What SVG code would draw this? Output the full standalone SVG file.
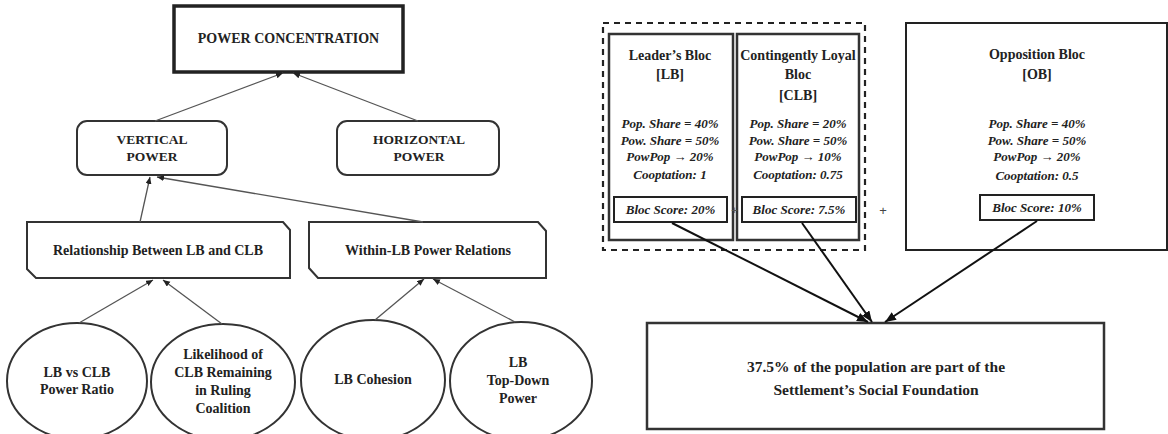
<svg xmlns="http://www.w3.org/2000/svg" width="1168" height="434" viewBox="0 0 1168 434">
<style>
.bt{font-family:"Liberation Serif",serif;font-weight:bold;fill:#222;text-anchor:middle}
.t14{font-size:14px}
.t13{font-size:13.5px}
.rt{font-size:14px}
.it{font-family:"Liberation Serif",serif;font-style:italic;font-weight:bold;font-size:13px;fill:#222;text-anchor:middle}
.node{fill:#fff;stroke:#333;stroke-width:2}
.thin{fill:none;stroke:#555;stroke-width:1.3}
.thick{fill:none;stroke:#111;stroke-width:2}
</style>
<defs>
<marker id="ah" markerUnits="userSpaceOnUse" markerWidth="8" markerHeight="8" refX="7" refY="3" orient="auto"><path d="M0,0 L7,3 L0,6 Z" fill="#222"/></marker>
<marker id="ahb" markerUnits="userSpaceOnUse" markerWidth="12" markerHeight="10" refX="11" refY="4.5" orient="auto"><path d="M0,0 L11,4.5 L0,9 Z" fill="#111"/></marker>
</defs>
<rect width="1168" height="434" fill="#fff"/>

<g id="power-concentration">
<rect x="174" y="6" width="229" height="66" fill="#fff" stroke="#222" stroke-width="3.5"/>
<text class="bt t14" x="288.5" y="43">POWER CONCENTRATION</text>
</g>
<g id="vertical-power">
<rect class="node" x="77" y="121" width="150" height="54" rx="10"/>
<text class="bt t13" x="152" y="144">VERTICAL</text>
<text class="bt t13" x="152" y="161">POWER</text>
</g>
<g id="horizontal-power">
<rect class="node" x="337" y="121" width="162" height="54" rx="10"/>
<text class="bt t13" x="419" y="144">HORIZONTAL</text>
<text class="bt t13" x="419" y="161">POWER</text>
</g>
<g id="relationship">
<path class="node" d="M27,222 H283 L290,230 V278 H36 L27,269 Z"/>
<text class="bt t14" x="158" y="255">Relationship Between LB and CLB</text>
</g>
<g id="within-lb">
<path class="node" d="M309,222 H538 L546,231 V278 H318 L309,268 Z"/>
<text class="bt t14" x="428" y="255">Within-LB Power Relations</text>
</g>
<g id="lb-vs-clb">
<ellipse class="node" cx="77" cy="381" rx="70" ry="58" stroke="#222"/>
<text class="bt t14" x="77" y="377">LB vs CLB</text>
<text class="bt t14" x="77" y="394">Power Ratio</text>
</g>
<g id="likelihood">
<ellipse class="node" cx="223" cy="382" rx="72" ry="58" stroke="#222"/>
<text class="bt t14" x="223" y="359">Likelihood of</text>
<text class="bt t14" x="223" y="377">CLB Remaining</text>
<text class="bt t14" x="223" y="395">in Ruling</text>
<text class="bt t14" x="223" y="413">Coalition</text>
</g>
<g id="lb-cohesion">
<ellipse class="node" cx="373" cy="380" rx="72" ry="60" stroke="#222"/>
<text class="bt t14" x="373" y="384">LB Cohesion</text>
</g>
<g id="lb-top-down">
<ellipse class="node" cx="521" cy="381" rx="71" ry="59" stroke="#222"/>
<text class="bt t14" x="518" y="367">LB</text>
<text class="bt t14" x="518" y="385">Top-Down</text>
<text class="bt t14" x="518" y="403">Power</text>
</g>

<g id="coalition-group">
<rect x="603" y="23" width="262" height="227" fill="none" stroke="#222" stroke-width="2.2" stroke-dasharray="6 5"/>
</g>
<g id="leaders-bloc">
<rect x="609" y="34" width="124" height="206" fill="#fff" stroke="#333" stroke-width="2.5"/>
<text class="bt rt" x="670" y="60">Leader’s Bloc</text>
<text class="bt rt" x="670" y="79">[LB]</text>
<text class="it" x="670" y="128">Pop. Share = 40%</text>
<text class="it" x="670" y="145">Pow. Share = 50%</text>
<text class="it" x="670" y="161">PowPop → 20%</text>
<text class="it" x="670" y="179">Cooptation: 1</text>
<rect x="614" y="197" width="113" height="25" fill="#fff" stroke="#222" stroke-width="2"/>
<text class="it" x="670.5" y="214">Bloc Score: 20%</text>
</g>
<g id="contingently-loyal-bloc">
<rect x="737" y="34" width="122" height="206" fill="#fff" stroke="#333" stroke-width="2.5"/>
<text class="bt rt" x="798" y="60">Contingently Loyal</text>
<text class="bt rt" x="798" y="79">Bloc</text>
<text class="bt rt" x="798" y="100">[CLB]</text>
<text class="it" x="798" y="128">Pop. Share = 20%</text>
<text class="it" x="798" y="145">Pow. Share = 50%</text>
<text class="it" x="798" y="161">PowPop → 10%</text>
<text class="it" x="798" y="179">Cooptation: 0.75</text>
<rect x="742" y="197" width="114" height="25" fill="#fff" stroke="#222" stroke-width="2"/>
<text class="it" x="799" y="214">Bloc Score: 7.5%</text>
</g>
<text x="734.5" y="214" font-family="Liberation Sans, sans-serif" font-size="11" fill="#555" text-anchor="middle">+</text>
<text x="883" y="215" font-family="Liberation Sans, sans-serif" font-size="13" fill="#444" text-anchor="middle">+</text>
<g id="opposition-bloc">
<rect x="906" y="23" width="261" height="227" fill="#fff" stroke="#222" stroke-width="2"/>
<text class="bt rt" x="1037" y="59">Opposition Bloc</text>
<text class="bt rt" x="1037" y="79">[OB]</text>
<text class="it" x="1037" y="128">Pop. Share = 40%</text>
<text class="it" x="1037" y="145">Pow. Share = 50%</text>
<text class="it" x="1037" y="161">PowPop → 20%</text>
<text class="it" x="1037" y="180">Cooptation: 0.5</text>
<rect x="980" y="195" width="114" height="25" fill="#fff" stroke="#222" stroke-width="2"/>
<text class="it" x="1037" y="212">Bloc Score: 10%</text>
</g>
<g id="social-foundation">
<rect x="647" y="323" width="457" height="106" fill="#fff" stroke="#333" stroke-width="2.5"/>
<text class="bt" font-size="15.5" x="876" y="372">37.5% of the population are part of the</text>
<text class="bt" font-size="15.5" x="876" y="395">Settlement’s Social Foundation</text>
</g>

<g id="connectors">
<line class="thin" x1="155" y1="121" x2="283" y2="73" marker-end="url(#ah)"/>
<line class="thin" x1="418" y1="121" x2="293" y2="73" marker-end="url(#ah)"/>
<line class="thin" x1="140" y1="222" x2="150" y2="177" marker-end="url(#ah)"/>
<line class="thin" x1="423" y1="222" x2="157" y2="177" marker-end="url(#ah)"/>
<line class="thin" x1="79" y1="323" x2="153" y2="280" marker-end="url(#ah)"/>
<line class="thin" x1="222" y1="324" x2="163" y2="280" marker-end="url(#ah)"/>
<line class="thin" x1="375" y1="320" x2="424" y2="279" marker-end="url(#ah)"/>
<line class="thin" x1="515" y1="322" x2="433" y2="279" marker-end="url(#ah)"/>
<line class="thick" x1="672" y1="223" x2="868" y2="322" marker-end="url(#ahb)"/>
<line class="thick" x1="802" y1="223" x2="872" y2="322" marker-end="url(#ahb)"/>
<line class="thick" x1="1037" y1="221" x2="885" y2="322" marker-end="url(#ahb)"/>
</g>
</svg>
